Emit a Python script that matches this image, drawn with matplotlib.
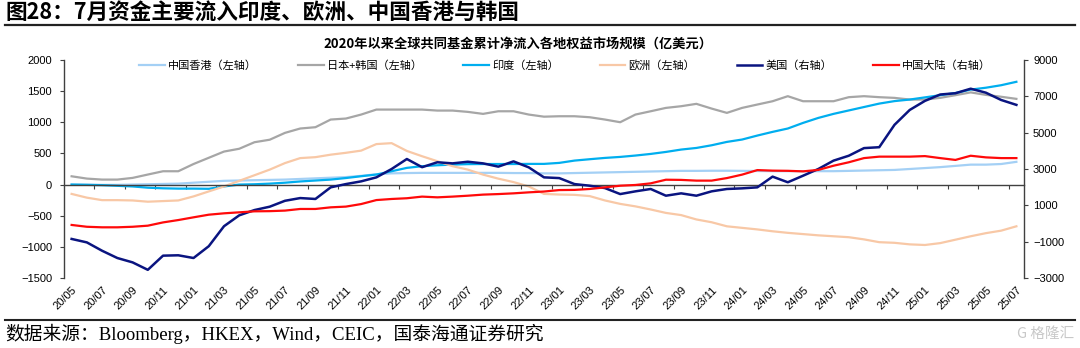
import numpy as np
import matplotlib
matplotlib.use('Agg')
import matplotlib.pyplot as plt
from matplotlib.lines import Line2D

plt.rcParams['font.family'] = ['Liberation Sans', 'Noto Sans CJK SC', 'DejaVu Sans']

# ---------------- data ----------------
months = ['20/05', '20/06', '20/07', '20/08', '20/09', '20/10', '20/11', '20/12',
          '21/01', '21/02', '21/03', '21/04', '21/05', '21/06', '21/07', '21/08',
          '21/09', '21/10', '21/11', '21/12', '22/01', '22/02', '22/03', '22/04',
          '22/05', '22/06', '22/07', '22/08', '22/09', '22/10', '22/11', '22/12',
          '23/01', '23/02', '23/03', '23/04', '23/05', '23/06', '23/07', '23/08',
          '23/09', '23/10', '23/11', '23/12', '24/01', '24/02', '24/03', '24/04',
          '24/05', '24/06', '24/07', '24/08', '24/09', '24/10', '24/11', '24/12',
          '25/01', '25/02', '25/03', '25/04', '25/05', '25/06', '25/07']

# left axis series
hong_kong = [0, 0, -5, -5, 0, 5, 10, 15, 30, 45, 60, 65, 70, 75, 80, 90,
             100, 110, 120, 140, 165, 180, 185, 188, 188, 188, 188, 188, 188, 185, 185, 180,
             180, 185, 190, 195, 200, 205, 210, 215, 220, 220, 222, 222, 220, 218, 215,
             215, 215, 215, 215, 220, 225, 230, 235, 250, 265, 280, 300, 320, 320, 330, 365]
japan_korea = [133, 96, 80, 80, 107, 161, 214, 214, 330, 430, 530, 575, 680, 720, 830, 900,
               921, 1044, 1060, 1124, 1204, 1204, 1204, 1204, 1188, 1188, 1167, 1135, 1177, 1177, 1124, 1090,
               1097, 1097, 1081, 1044, 1001, 1124, 1177, 1231, 1258, 1296, 1220, 1151, 1231, 1285, 1338,
               1419, 1338, 1338, 1338, 1403, 1419, 1403, 1392, 1365, 1365, 1392, 1435, 1480, 1440, 1410, 1376]
india = [0, -5, -10, -20, -30, -50, -60, -65, -65, -68, -30, 0, 5, 15, 30, 50,
         65, 80, 105, 134, 161, 214, 268, 295, 310, 321, 328, 330, 330, 330, 332, 332,
         348, 385, 407, 428, 444, 466, 492, 524, 562, 588, 631, 685, 723, 787, 846,
         900, 990, 1070, 1135, 1190, 1245, 1300, 1340, 1365, 1400, 1435, 1470, 1525, 1555, 1595, 1650]
europe = [-150, -210, -250, -250, -255, -275, -265, -255, -190, -110, -30, 60, 150, 240, 345, 425,
          440, 480, 510, 545, 650, 665, 540, 455, 375, 295, 240, 160, 95, 40, -30, -150,
          -160, -165, -185, -255, -310, -350, -400, -455, -490, -560, -605, -670, -695, -720, -750,
          -775, -795, -815, -830, -845, -880, -925, -935, -960, -970, -940, -885, -830, -780, -740, -670]
# right axis series
usa = [-850, -1040, -1500, -1900, -2140, -2550, -1770, -1750, -1900, -1250, -150, 450, 740, 925, 1250, 1400,
       1350, 1990, 2170, 2320, 2540, 3000, 3550, 3100, 3370, 3310, 3400, 3310, 3130, 3420, 3090, 2540,
       2500, 2170, 2080, 1950, 1620, 1770, 1900, 1530, 1660, 1530, 1770, 1900, 1935, 1990, 2580,
       2270, 2630, 3000, 3460, 3730, 4150, 4200, 5430, 6250, 6750, 7100, 7170, 7420, 7200, 6800, 6530]
china_mainland = [-80, -180, -210, -210, -180, -120, 60, 190, 340, 485, 560, 615, 670, 680, 710, 800,
                  800, 890, 930, 1070, 1290, 1350, 1390, 1480, 1440, 1480, 1530, 1590, 1620, 1660, 1715, 1760,
                  1840, 1850, 1900, 1990, 2080, 2120, 2210, 2410, 2400, 2360, 2360, 2500, 2690, 2940, 2910,
                  2900, 2870, 2950, 3180, 3370, 3600, 3680, 3680, 3680, 3710, 3600, 3500, 3730, 3640, 3600, 3600]

left_names = ['中国香港（左轴）', '日本+韩国（左轴）', '印度（左轴）', '欧洲（左轴）']
right_names = ['美国（右轴）', '中国大陆（右轴）']

header = '图28：7月资金主要流入印度、欧洲、中国香港与韩国'
chart_title = '2020年以来全球共同基金累计净流入各地权益市场规模（亿美元）'
source = '数据来源：Bloomberg，HKEX，Wind，CEIC，国泰海通证券研究'

# ---------------- figure ----------------
W, H = 1080, 348
fig = plt.figure(figsize=(W / 100, H / 100), dpi=100)
fig.patch.set_facecolor('white')

ax = fig.add_axes([64 / W, 1 - 278 / H, 960 / W, 218 / H])
ax2 = ax.twinx()

x = np.arange(len(months))
cjk = ['Noto Sans CJK SC', 'DejaVu Sans']
axis_col = '#404040'

l1, = ax.plot(x, hong_kong, color='#A4D0F5', lw=1.6, label=left_names[0])
l2, = ax.plot(x, japan_korea, color='#A6A6A6', lw=1.6, label=left_names[1])
l3, = ax.plot(x, india, color='#00AEEF', lw=1.6, label=left_names[2])
l4, = ax.plot(x, europe, color='#F8C8A6', lw=1.6, label=left_names[3])
r1, = ax2.plot(x, usa, color='#0A1480', lw=1.8, label=right_names[0])
r2, = ax2.plot(x, china_mainland, color='#FF0A0A', lw=1.6, label=right_names[1])

ax.set_xlim(-0.5, len(months) - 0.5)
ax.set_ylim(-1500, 2000)
ax.set_yticks(np.arange(-1500, 2001, 500))
ax2.set_ylim(-3000, 9000)
ax2.set_yticks(np.arange(-3000, 9001, 2000))

# spines
for s in ['top', 'right']:
    ax.spines[s].set_visible(False)
ax.spines['left'].set_color(axis_col)
ax.spines['left'].set_linewidth(1.0)
ax.spines['bottom'].set_position(('data', 0))
ax.spines['bottom'].set_color(axis_col)
ax.spines['bottom'].set_linewidth(1.0)
for s in ['top', 'left', 'bottom']:
    ax2.spines[s].set_visible(False)
ax2.spines['right'].set_color(axis_col)
ax2.spines['right'].set_linewidth(1.0)

# x axis line at zero with boundary ticks (no labels)
ax.set_xticks(x[::2])
ax.set_xticks(np.arange(1.5, len(months) - 1, 2), minor=True)
ax.tick_params(axis='x', which='major', length=0, labelbottom=False)
ax.tick_params(axis='x', which='minor', length=3, width=0.8, color=axis_col, direction='out')

# x labels at bottom through twin axis
ax2.xaxis.set_visible(True)
ax2.set_xticks(x[::2])
ax2.set_xticklabels(months[::2], rotation=45, ha='right', va='top', rotation_mode='anchor')
ax2.tick_params(axis='x', which='both', length=0, pad=5, labelsize=8, labelbottom=True)

ax.tick_params(axis='y', length=3, width=0.8, color=axis_col, pad=5.5, labelsize=8, direction='out')
ax2.tick_params(axis='y', length=3, width=0.8, color=axis_col, pad=3.5, labelsize=8, direction='out')

# legend
handles = [l1, l2, l3, l4, r1, r2]
leg = ax2.legend(handles, [h.get_label() for h in handles], loc='center',
                 bbox_to_anchor=(0.522, 0.975), ncol=6, frameon=False,
                 handlelength=2.3, handletextpad=0.3, columnspacing=3.7,
                 prop={'family': cjk, 'size': 8})

# texts
fig.text(5 / W, 1 - 12 / H, header, ha='left', va='center', fontsize=15.6,
         fontweight='bold', family=cjk)
fig.add_artist(Line2D([5 / W, 1075 / W], [1 - 24.5 / H] * 2, color='#222222', lw=1.6))
fig.text(518 / W, 1 - 44 / H, chart_title, ha='center', va='center', fontsize=9.5,
         fontweight='bold', family=cjk)
fig.add_artist(Line2D([5 / W, 1075 / W], [1 - 320 / H] * 2, color='#222222', lw=1.5))
fig.text(5 / W, 1 - 334 / H, source, ha='left', va='center', fontsize=13.5,
         family=['Liberation Serif', 'Noto Sans CJK SC'])
fig.text(1074 / W, 1 - 334 / H, 'G 格隆汇', ha='right', va='center', fontsize=10.5,
         color='#C8C8C8', family=cjk)

fig.savefig('out.png', dpi=100, facecolor='white')
